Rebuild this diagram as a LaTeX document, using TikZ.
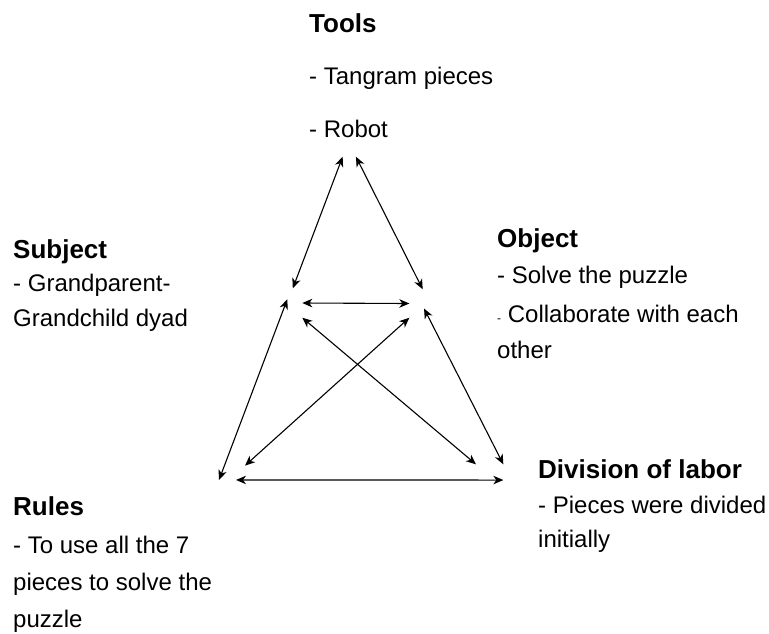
\documentclass[tikz,border=0pt]{standalone}
\usepackage{fontspec}
\setmainfont{Liberation Sans}
\usetikzlibrary{arrows.meta,positioning}

\tikzset{
  title/.style={anchor=base west, inner sep=0pt, font=\fontsize{26}{30}\selectfont\bfseries},
  body/.style={anchor=base west, inner sep=0pt, font=\fontsize{24}{28}\selectfont},
  hub/.style={rectangle, inner sep=0pt, outer sep=0pt},
  link/.style={{Stealth[length=10pt,width=8.5pt,inset=3pt]}-{Stealth[length=10pt,width=8.5pt,inset=3pt]}, line width=1.1pt}
}

\begin{document}
\begin{tikzpicture}[x=1pt,y=-1pt]
        \useasboundingbox (0,0) rectangle (769,633);

        % texts
        \node[title] (toolsT) at (309,32) {Tools};
        \node[body] (tools1) at (309,84) {- Tangram pieces};
        \node[body] (tools2) at (309,137) {- Robot};

        \node[title] (subjT) at (13,258) {Subject};
        \node[body] (subj1) at (13,291) {- Grandparent-};
        \node[body] (subj2) at (13,326) {Grandchild dyad};

        \node[title] (objT) at (497,247) {Object};
        \node[body] (obj1) at (497,283) {- Solve the puzzle};
        \node[body] (obj2) at (497,322) {{\fontsize{12}{12}\selectfont -} Collaborate with each};
        \node[body] (obj3) at (497,358) {other};

        \node[title] (rulesT) at (13,515) {Rules};
        \node[body] (rules1) at (13,553) {- To use all the 7};
        \node[body] (rules2) at (13,590) {pieces to solve the};
        \node[body] (rules3) at (13,627) {puzzle};

        \node[title] (divT) at (538,478) {Division of labor};
        \node[body] (div1) at (538,513) {- Pieces were divided};
        \node[body] (div2) at (538,547) {initially};

        % corners of the triangle
        \node[hub, minimum width=13.3pt, minimum height=13pt] (tools) at (349.3,150.2) {};
        \node[hub, minimum width=15pt, minimum height=29.4pt] (subj) at (294.8,303) {};
        \node[hub, minimum width=14.7pt, minimum height=28.4pt] (obj) at (416.7,303.5) {};
        \node[hub, minimum width=26pt, minimum height=14.3pt] (rules) at (232,472.8) {};
        \node[hub, minimum width=27.3pt, minimum height=15.7pt] (div) at (489.7,472.2) {};

        \draw[link] (tools.south west) -- ([xshift=-2pt]subj.north);
        \draw[link] (tools.south east) -- ([xshift=6pt]obj.north);
        \draw[link] (subj.east) -- (obj.west);
        \draw[link] ([yshift=3.7pt]subj.west) -- (rules.south west);
        \draw[link] ([yshift=-5pt]obj.east) -- (div.north east);
        \draw[link] (subj.south east) -- (div.north west);
        \draw[link] (obj.south west) -- (rules.north east);
        \draw[link] ([xshift=4pt]rules.south) -- (div.south east);
      \end{tikzpicture}
\end{document}
